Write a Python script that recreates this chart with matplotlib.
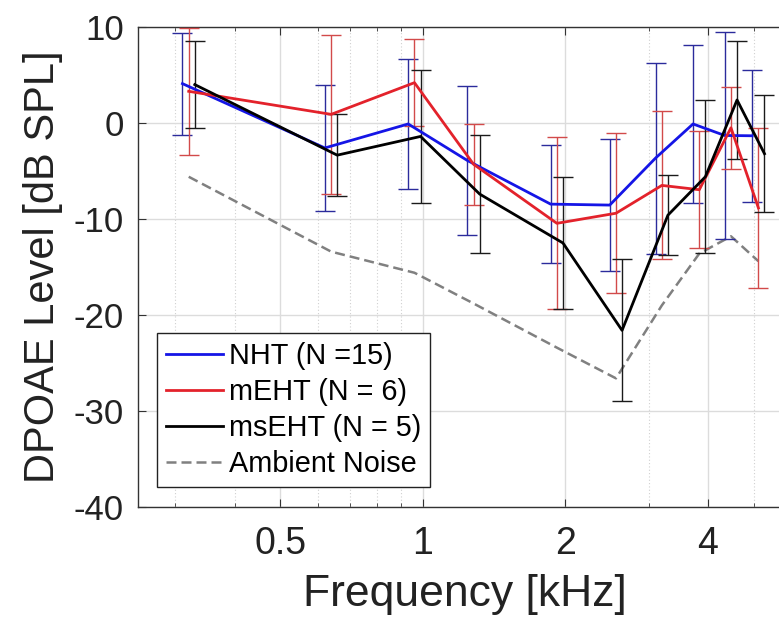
import numpy as np
import matplotlib
matplotlib.use('Agg')
import matplotlib.pyplot as plt
from matplotlib.ticker import FixedLocator, NullFormatter

plt.rcParams['font.family'] = ['Liberation Sans', 'DejaVu Sans']
plt.rcParams['axes.unicode_minus'] = False

# DPOAE f2 frequencies (kHz)
freq_khz = [0.32, 0.64, 0.96, 1.28, 1.92, 2.56, 3.20, 3.84, 4.48, 5.12]

# group means and SD (dB SPL)
nht_mean = [4.1, -2.6, -0.1, -3.9, -8.45, -8.55, -3.65, -0.1, -1.3, -1.33]
nht_sd = [5.3, 6.6, 6.8, 7.8, 6.15, 6.9, 9.95, 8.2, 10.8, 6.9]

meht_mean = [3.3, 0.9, 4.2, -4.3, -10.45, -9.4, -6.5, -6.95, -0.5, -8.85]
meht_sd = [6.6, 8.3, 4.5, 4.2, 8.95, 8.35, 7.7, 6.1, 4.25, 8.35]

mseht_mean = [4.0, -3.35, -1.4, -7.4, -12.5, -21.6, -9.6, -5.6, 2.4, -3.2]
mseht_sd = [4.55, 4.25, 6.9, 6.1, 6.9, 7.4, 4.2, 7.95, 6.1, 6.1]

noise = [-5.6, -13.4, -15.6, -18.8, -23.4, -26.6, -19.0, -13.6, -11.8, -14.4]

labels = ['NHT (N =15)', 'mEHT (N = 6)', 'msEHT (N = 5)', 'Ambient Noise']

fig = plt.figure(figsize=(7.79, 6.30), dpi=100)
ax = fig.add_axes([138 / 779, 123 / 630, 653 / 779, 480 / 630])

f = np.array(freq_khz)
groups = [
    (nht_mean, nht_sd, 0.97, '#1515e6', '#2b2b9c'),
    (meht_mean, meht_sd, 1.0, '#e3222b', '#d24a4a'),
    (mseht_mean, mseht_sd, 1.03, '#000000', '#1a1a1a'),
]

handles = []
for mean, sd, shift, col, ecol in groups:
    ax.errorbar(f * shift, mean, yerr=sd, fmt='none', ecolor=ecol,
                elinewidth=1.0, capsize=7, capthick=1.0, zorder=3)
for mean, sd, shift, col, ecol in groups:
    h, = ax.plot(f * shift, mean, color=col, linewidth=2.0, zorder=4)
    handles.append(h)

h, = ax.plot(f, noise, color='#808080', linestyle=(0, (4, 2)),
             linewidth=1.8, zorder=2)
handles.append(h)

ax.set_xscale('log')
ax.set_xlim(0.25, 6.0)
ax.set_ylim(-40, 10)

ax.xaxis.set_major_locator(FixedLocator([0.5, 1, 2, 4]))
ax.set_xticklabels(['0.5', '1', '2', '4'])
ax.xaxis.set_minor_locator(FixedLocator([0.3, 0.4, 0.6, 0.7, 0.8, 0.9, 3, 5]))
ax.xaxis.set_minor_formatter(NullFormatter())
ax.set_yticks([10, 0, -10, -20, -30, -40])

ax.tick_params(axis='x', which='major', direction='in', length=6,
               top=True, labelsize=27, pad=14, color='#333333')
ax.tick_params(axis='x', which='minor', direction='in', length=3,
               top=True, color='#333333')
ax.tick_params(axis='y', which='major', direction='in', length=6,
               labelsize=25, pad=10, color='#333333')

ax.grid(True, which='major', color='#dcdcdc', linewidth=1.0, zorder=0)
ax.grid(True, which='minor', axis='x', color='#d0d0d0', linewidth=0.8,
        linestyle=(0, (1, 2)), zorder=0)

for s in ['left', 'bottom', 'top']:
    ax.spines[s].set_color('#333333')
    ax.spines[s].set_linewidth(1.0)
ax.spines['right'].set_visible(False)

ax.set_xlabel('Frequency [kHz]', fontsize=32, labelpad=8, color='#222222')
ax.set_ylabel('DPOAE Level [dB SPL]', fontsize=30, labelpad=8, color='#222222')
ax.tick_params(labelcolor='#222222')

leg = ax.legend(handles, labels, loc='lower left',
                bbox_to_anchor=(19 / 653, 20 / 480), fontsize=20.8,
                frameon=True, fancybox=False, edgecolor='#222222',
                framealpha=1, handlelength=2.0, handletextpad=0.2,
                labelspacing=0.28, borderpad=0.3, borderaxespad=0)
leg.get_frame().set_linewidth(1.0)

fig.savefig('out.png', dpi=100)
